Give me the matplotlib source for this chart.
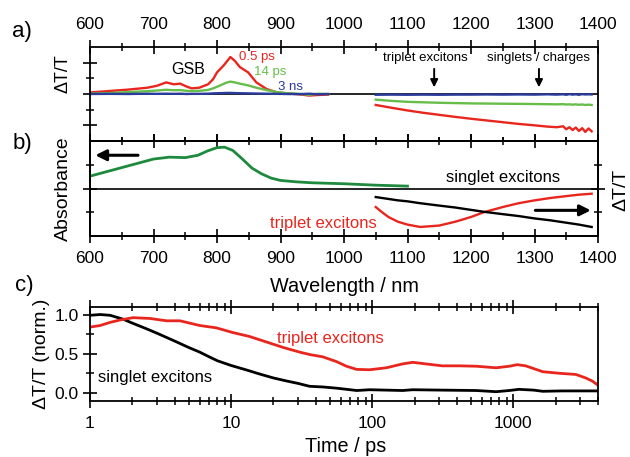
import matplotlib
matplotlib.use("Agg")
import matplotlib.pyplot as plt
from matplotlib.ticker import FixedLocator, NullFormatter, LogLocator

plt.rcParams['font.family'] = ['Liberation Sans', 'DejaVu Sans']

W, H = 630, 457

# ---------------- panel a: transient spectra (arb. units) ----------------
vis_wl = [600, 630, 660, 690, 705, 720, 732, 742, 752, 760, 772, 786, 794, 800, 810,
          816, 821, 828, 836, 849, 862, 878, 894, 910, 930, 945, 960, 975]
vis_05ps = [0.10, 0.19, 0.28, 0.40, 0.52, 0.74, 0.62, 0.66, 0.48, 0.36, 0.40, 0.62, 0.95, 1.38, 1.80,
            2.10, 2.36, 2.12, 1.72, 1.38, 0.74, 0.32, 0.11, 0.04, -0.02, -0.10, -0.06, -0.04]
vis_14ps = [0.02, 0.06, 0.12, 0.18, 0.22, 0.27, 0.24, 0.25, 0.20, 0.19, 0.20, 0.26, 0.36, 0.46, 0.64,
            0.74, 0.79, 0.74, 0.66, 0.55, 0.40, 0.25, 0.12, 0.05, 0.01, -0.05, 0.02, 0.00]
vis_3ns = [0.00, 0.01, 0.00, 0.02, 0.01, 0.02, 0.01, 0.02, 0.00, 0.01, 0.01, 0.02, 0.04, 0.05, 0.06,
           0.07, 0.07, 0.06, 0.05, 0.04, 0.03, 0.02, 0.01, 0.00, -0.01, 0.02, -0.02, 0.00]

nir_wl = [1050, 1075, 1100, 1125, 1150, 1175, 1200, 1225, 1250, 1275, 1300, 1320, 1335,
          1345, 1350, 1355, 1360, 1365, 1370, 1375, 1380, 1385, 1390]
nir_05ps = [-0.70, -0.88, -1.05, -1.20, -1.33, -1.46, -1.58, -1.69, -1.80, -1.91, -2.00, -2.08, -2.12,
            -2.06, -2.25, -2.12, -2.30, -2.14, -2.36, -2.18, -2.42, -2.20, -2.38]
nir_14ps = [-0.36, -0.44, -0.50, -0.53, -0.56, -0.58, -0.60, -0.61, -0.62, -0.63, -0.64, -0.65, -0.66,
            -0.65, -0.67, -0.66, -0.68, -0.66, -0.69, -0.67, -0.70, -0.68, -0.70]
nir_3ns = [-0.05, -0.04, -0.05, -0.04, -0.05, -0.04, -0.04, -0.03, -0.04, -0.03, -0.04, -0.02, -0.04,
           -0.02, -0.05, -0.01, -0.04, -0.02, -0.05, -0.01, -0.03, -0.02, -0.03]

# ---------------- panel b: absorbance and species spectra ----------------
abs_wl = [600, 625, 650, 675, 700, 725, 750, 770, 785, 800, 812, 825, 840, 855,
          870, 885, 900, 925, 950, 1000, 1050, 1100]
abs_val = [0.26, 0.35, 0.44, 0.53, 0.62, 0.66, 0.65, 0.70, 0.79, 0.86, 0.87, 0.80, 0.62, 0.43,
           0.31, 0.22, 0.17, 0.14, 0.12, 0.10, 0.07, 0.05]

sp_wl = [1050, 1060, 1070, 1085, 1100, 1120, 1150, 1175, 1200, 1220, 1250, 1275, 1300,
         1325, 1350, 1370, 1390]
triplet_sp = [-0.39, -0.50, -0.60, -0.70, -0.76, -0.81, -0.78, -0.70, -0.60, -0.50, -0.39, -0.31, -0.25,
              -0.20, -0.16, -0.13, -0.11]
singlet_sp = [-0.18, -0.20, -0.22, -0.25, -0.27, -0.31, -0.36, -0.40, -0.45, -0.49, -0.54, -0.58, -0.63,
              -0.67, -0.72, -0.76, -0.81]

# ---------------- panel c: normalised kinetics ----------------
t_singlet = [1.0, 1.18, 1.39, 1.72, 2.0, 2.5, 3.0, 4.0, 5.0, 6.0, 7.0, 8.0, 10, 13, 16, 20, 25, 30,
             36, 45, 56, 78, 96, 165, 194, 315, 549, 758, 940, 1100, 1400, 1624, 2230, 3950]
singlet_kin = [0.99, 1.00, 0.99, 0.94, 0.89, 0.82, 0.76, 0.66, 0.58, 0.52, 0.46, 0.41, 0.35, 0.29,
               0.24, 0.19, 0.15, 0.12, 0.084, 0.075, 0.06, 0.03, 0.04, 0.03, 0.04, 0.035, 0.03, 0.015,
               0.03, 0.045, 0.035, 0.02, 0.025, 0.025]
t_triplet = [1.0, 1.18, 1.39, 1.63, 2.02, 2.66, 3.49, 4.34, 6.0, 7.87, 10.3, 13.5, 17.8, 23.4, 30.7,
             36, 44.7, 55.8, 65.9, 77.6, 95.9, 126, 165, 194, 240, 315, 416, 549, 758, 940, 1071,
             1228, 1624, 2127, 2788, 3277, 3648, 3950]
triplet_kin = [0.84, 0.86, 0.90, 0.93, 0.96, 0.95, 0.92, 0.92, 0.86, 0.83, 0.77, 0.72, 0.65, 0.58,
               0.52, 0.49, 0.46, 0.40, 0.34, 0.30, 0.295, 0.32, 0.37, 0.39, 0.37, 0.345, 0.345, 0.34,
               0.32, 0.34, 0.36, 0.345, 0.27, 0.25, 0.235, 0.19, 0.15, 0.105]

wl_ticks = [600, 700, 800, 900, 1000, 1100, 1200, 1300, 1400]
wl_minor = [650, 750, 850, 950, 1050, 1150, 1250, 1350]

RED = '#e8261e'
LGREEN = '#66bd4a'
DGREEN = '#1e8a3e'
BLUE = '#2a3b9c'
LW = 1.7


def rect(x0, y0, x1, y1):
    return [x0 / W, 1 - y1 / H, (x1 - x0) / W, (y1 - y0) / H]


def fpos(x, y):
    return x / W, 1 - y / H


def style_axes(ax):
    for s in ax.spines.values():
        s.set_linewidth(1.3)
    ax.tick_params(which='major', direction='inout', length=10, width=1.2, labelsize=12.5)
    ax.tick_params(which='minor', direction='inout', length=6, width=1.1)


fig = plt.figure(figsize=(W / 100, H / 100), dpi=100)

# ---- a) ----
axa = fig.add_axes(rect(90, 47, 598, 141))
style_axes(axa)
axa.set_xlim(600, 1400)
axa.set_ylim(-3, 3)
axa.xaxis.set_major_locator(FixedLocator(wl_ticks))
axa.xaxis.set_minor_locator(FixedLocator(wl_minor))
axa.tick_params(axis='x', which='both', top=True, bottom=True, labeltop=True, labelbottom=False, pad=6)
axa.yaxis.set_major_locator(FixedLocator([-2, 0, 2]))
axa.yaxis.set_minor_locator(FixedLocator([-1, 1]))
axa.tick_params(axis='y', which='both', left=True, right=False, labelleft=False)
axa.axhline(0, color='black', lw=1.2, zorder=1)
axa.plot(vis_wl, vis_05ps, color=RED, lw=LW)
axa.plot(vis_wl, vis_14ps, color=LGREEN, lw=LW)
axa.plot(vis_wl, vis_3ns, color=BLUE, lw=LW)
axa.plot(nir_wl, nir_05ps, color=RED, lw=LW)
axa.plot(nir_wl, nir_14ps, color=LGREEN, lw=LW)
axa.plot(nir_wl, nir_3ns, color=BLUE, lw=LW)
axa.text(754, 1.55, 'GSB', fontsize=11.5, ha='center', va='center')
axa.text(863, 2.38, '0.5 ps', fontsize=9.5, color=RED, ha='center', va='center')
axa.text(883, 1.42, '14 ps', fontsize=9.5, color=LGREEN, ha='center', va='center')
axa.text(915, 0.47, '3 ns', fontsize=9.5, color=BLUE, ha='center', va='center')
axa.text(1128, 2.29, 'triplet excitons', fontsize=9.5, ha='center', va='center')
axa.text(1307, 2.29, 'singlets / charges', fontsize=9.5, ha='center', va='center')
for xa in (1142, 1307):
    axa.annotate('', xy=(xa, 0.25), xytext=(xa, 1.78),
                 arrowprops=dict(arrowstyle='-|>', lw=1.4, color='black', mutation_scale=11))

# ---- b) ----
axb = fig.add_axes(rect(90, 141, 598, 236))
style_axes(axb)
axb.set_xlim(600, 1400)
axb.set_ylim(-1, 1)
axb.xaxis.set_major_locator(FixedLocator(wl_ticks))
axb.xaxis.set_minor_locator(FixedLocator(wl_minor))
axb.tick_params(axis='x', which='both', top=True, bottom=True, pad=6)
axb.yaxis.set_major_locator(FixedLocator([0]))
axb.yaxis.set_minor_locator(FixedLocator([-0.5, 0.5]))
axb.tick_params(axis='y', which='both', left=True, right=False, labelleft=False)
axb.axhline(0, color='black', lw=1.2, zorder=1)
axb.plot(abs_wl, abs_val, color=DGREEN, lw=2.0)
axb.annotate('', xy=(604, 0.70), xytext=(680, 0.70),
             arrowprops=dict(arrowstyle='-|>', lw=2.2, color='black', mutation_scale=16))
axb.text(1250, 0.24, 'singlet excitons', fontsize=12, ha='center', va='center')

axb2 = axb.twinx()
axb2.set_ylim(-1, 1)
for s in axb2.spines.values():
    s.set_linewidth(1.3)
axb2.yaxis.set_major_locator(FixedLocator([0]))
axb2.yaxis.set_minor_locator(FixedLocator([-0.5, 0.5]))
axb2.tick_params(axis='y', which='major', direction='inout', length=10, width=1.2, labelright=False)
axb2.tick_params(axis='y', which='minor', direction='inout', length=6, width=1.1)
axb2.plot(sp_wl, triplet_sp, color=RED, lw=LW)
axb2.plot(sp_wl, singlet_sp, color='black', lw=LW)
axb2.annotate('', xy=(1393, -0.46), xytext=(1297, -0.46),
              arrowprops=dict(arrowstyle='-|>', lw=2.2, color='black', mutation_scale=16))
axb2.text(967, -0.74, 'triplet excitons', fontsize=12, color=RED, ha='center', va='center')

# ---- c) ----
axc = fig.add_axes(rect(90, 306.7, 598, 400.7))
style_axes(axc)
axc.set_xscale('log')
axc.set_xlim(1, 4000)
axc.set_ylim(-0.1, 1.1)
axc.xaxis.set_major_locator(FixedLocator([1, 10, 100, 1000]))
axc.xaxis.set_minor_locator(LogLocator(base=10, subs=[2, 3, 4, 5, 6, 7, 8, 9], numticks=20))
axc.xaxis.set_minor_formatter(NullFormatter())
axc.set_xticklabels(['1', '10', '100', '1000'])
axc.tick_params(axis='x', which='both', top=True, bottom=True, pad=6)
axc.yaxis.set_major_locator(FixedLocator([0.0, 0.5, 1.0]))
axc.yaxis.set_minor_locator(FixedLocator([0.25, 0.75]))
axc.set_yticklabels(['0.0', '0.5', '1.0'])
axc.tick_params(axis='y', which='both', left=True, right=False, pad=3)
axc.plot(t_singlet, singlet_kin, color='black', lw=2.0)
axc.plot(t_triplet, triplet_kin, color=RED, lw=2.0)
axc.text(51, 0.70, 'triplet excitons', fontsize=12, color=RED, ha='center', va='center')
axc.text(2.91, 0.20, 'singlet excitons', fontsize=12, ha='center', va='center')

# ---- axis titles and panel letters ----
fig.text(*fpos(63, 74), 'ΔT/T', rotation=90, fontsize=13, ha='center', va='center')
fig.text(*fpos(63, 188.5), 'Absorbance', rotation=90, fontsize=14, ha='center', va='center')
fig.text(*fpos(621, 190), 'ΔT/T', rotation=90, fontsize=14, ha='center', va='center')
fig.text(*fpos(42, 354), 'ΔT/T (norm.)', rotation=90, fontsize=14, ha='center', va='center')
fig.text(*fpos(344, 286.7), 'Wavelength / nm', fontsize=14.3, ha='center', va='center')
fig.text(*fpos(346, 446.7), 'Time / ps', fontsize=14.3, ha='center', va='center')
for lab, (lx, ly) in {'a)': (22, 32), 'b)': (22, 143), 'c)': (24, 285)}.items():
    fig.text(*fpos(lx, ly), lab, fontsize=16, ha='center', va='center')

fig.savefig('out.png', dpi=100, facecolor='white')
